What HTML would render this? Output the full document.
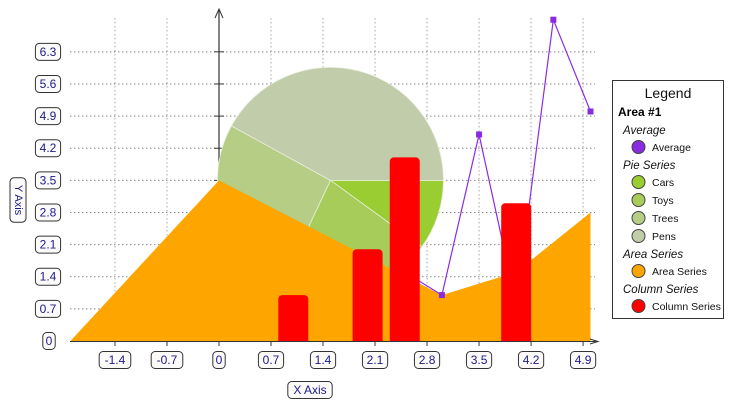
<!DOCTYPE html>
<html><head><meta charset="utf-8"><style>
body{margin:0;background:#fff;width:732px;height:406px;overflow:hidden;font-family:"Liberation Sans",sans-serif}
svg{position:absolute;left:0;top:0}
text{font-family:"Liberation Sans",sans-serif}
</style></head><body>
<svg id="chart" width="732" height="406" xmlns="http://www.w3.org/2000/svg">
<g id="grid"></g>
<g id="vaxis"></g>
<g id="pie"></g>
<g id="area"></g>
<g id="line"></g>
<g id="cols"></g>
<g id="axes"></g>
<g id="legend">
<rect x="612.5" y="80.5" width="111" height="238" fill="#fff" stroke="#333"/>
<text x="668" y="98" font-size="14" text-anchor="middle" fill="#111">Legend</text>
<text x="618" y="116" font-size="12" font-weight="bold" fill="#000">Area #1</text>
</g>
</svg>
<script>
const xTicks=[-1.4,-0.7,0,0.7,1.4,2.1,2.8,3.5,4.2,4.9];
const yTicks=[0,0.7,1.4,2.1,2.8,3.5,4.2,4.9,5.6,6.3];
const areaX=[-2,0,3,4,5];
const areaY=[0,3.5,1,1.5,2.8];
const colX=[1,2,2.5,4];
const colY=[1,2,4,3];
const avgX=[2.5,3,3.5,4,4.5,5];
const avgY=[1.5,1,4.5,0.8,7,5];
const pieNames=["Cars","Toys","Trees","Pens"];
const pieValues=[10,22,26,42];
const pieColors=["#9acd32","#a8cc5a","#b5cd85","#c1ccaa"];
const NS="http://www.w3.org/2000/svg";
const X=v=>219+v*74.3, Y=v=>341-v*45.9;
function mk(p,t,a){const e=document.createElementNS(NS,t);for(const k in a)e.setAttribute(k,a[k]);p.appendChild(e);return e;}
const grid=document.getElementById('grid');
xTicks.forEach(v=>{const l=mk(grid,'line',{x1:X(v),x2:X(v),y1:18,y2:341,stroke:'#aaa','stroke-dasharray':'1.5,2.5'});

});
yTicks.slice(1).forEach(v=>{const l=mk(grid,'line',{x1:70,x2:595,y1:Y(v),y2:Y(v),stroke:'#888','stroke-dasharray':'1.5,2.5'});

});
const va=document.getElementById('vaxis');
mk(va,'line',{x1:219,x2:219,y1:10,y2:341,stroke:'#333','stroke-width':1.2});
mk(va,'path',{d:'M215,18L219,9L223,18',fill:'none',stroke:'#333'});
yTicks.forEach(v=>{if(v>0)mk(va,'line',{x1:214,x2:224,y1:Y(v),y2:Y(v),stroke:'#333'});});
// pie
const pie=document.getElementById('pie');
const cx=X(1.5),cy=Y(3.5),r=113;const tot=pieValues.reduce((a,b)=>a+b,0);let a0=0;
pieValues.forEach((v,i)=>{const a1=a0+v/tot*2*Math.PI;
const d=`M${cx},${cy}L${cx+r*Math.cos(a0)},${cy+r*Math.sin(a0)}A${r},${r} 0 ${a1-a0>Math.PI?1:0} 1 ${cx+r*Math.cos(a1)},${cy+r*Math.sin(a1)}Z`;
const p=mk(pie,'path',{d,fill:pieColors[i],stroke:'#e8eedd','stroke-width':0.8});

a0=a1;});
// area
const area=document.getElementById('area');
let d='M'+X(areaX[0])+','+Y(0);areaX.forEach((x,i)=>d+='L'+X(x)+','+Y(areaY[i]));d+='L'+X(areaX[areaX.length-1])+','+Y(0)+'Z';
const ap=mk(area,'path',{d,fill:'#ffa500'});


// line
const line=document.getElementById('line');
const pl=mk(line,'polyline',{points:avgX.map((x,i)=>X(x)+','+Y(avgY[i])).join(' '),fill:'none',stroke:'#8a2be2','stroke-width':1.2});


avgX.forEach((x,i)=>{const m=mk(line,'rect',{x:X(x)-3,y:Y(avgY[i])-3,width:6,height:6,fill:'#8a2be2'});

});
// cols
const cols=document.getElementById('cols');
colX.forEach((x,i)=>{const b=mk(cols,'rect',{x:X(x)-15,y:Y(colY[i]),width:30,height:Y(0)-Y(colY[i])+6,rx:4,fill:'#ff0000'});

});
mk(cols,'rect',{x:0,y:341.5,width:600,height:10,fill:'#fff'});
// axes
const ax=document.getElementById('axes');
mk(ax,'line',{x1:70,x2:597,y1:341.5,y2:341.5,stroke:'#333'});
mk(ax,'path',{d:'M590,339L598,341.5L590,344',fill:'none',stroke:'#333'});
function box(txt,cx,cy,name,vert){const g=mk(ax,'g',{});


const w=txt.length*6.4+6;
if(vert){mk(g,'rect',{x:cx-8,y:cy-w/2,width:16,height:w,rx:4,fill:'#fdfafa',stroke:'#333'});
const t=mk(g,'text',{x:cx,y:cy,'font-size':11,fill:'#1a1a8a','text-anchor':'middle','dominant-baseline':'central',transform:`rotate(90 ${cx} ${cy})`});t.textContent=txt;}
else{mk(g,'rect',{x:cx-w/2,y:cy-8.5,width:w,height:17,rx:4,fill:'#fdfafa',stroke:'#333'});
const t=mk(g,'text',{x:cx,y:cy+4,'font-size':12,fill:'#1a1a8a','text-anchor':'middle'});t.textContent=txt;}}
xTicks.forEach(v=>{mk(ax,'line',{x1:X(v),x2:X(v),y1:341,y2:346,stroke:'#333'});box(String(v),X(v),360,'x-tick-label');});
yTicks.forEach(v=>{box(String(v),v===0?49:48,Y(v),'y-tick-label');});
box('X Axis',310,390,'x-axis-title');box('Y Axis',18,200,'y-axis-title',true);
// legend
const lg=document.getElementById('legend');
const items=[['h','Average'],['i','Average','#8a2be2'],['h','Pie Series'],['i','Cars',pieColors[0]],['i','Toys',pieColors[1]],['i','Trees',pieColors[2]],['i','Pens',pieColors[3]],['h','Area Series'],['i','Area Series','#ffa500'],['h','Column Series'],['i','Column Series','#ff0000']];
let yy=134;
items.forEach(it=>{if(it[0]==='h'){const t=mk(lg,'text',{x:623,y:yy,'font-size':11.5,'font-style':'italic',fill:'#111'});t.textContent=it[1];yy+=17;}
else{const g=mk(lg,'g',{});


mk(g,'circle',{cx:638.5,cy:yy-4,r:6.5,fill:it[2],stroke:'#444'});const t=mk(g,'text',{x:652,y:yy,'font-size':10.5,fill:'#111'});t.textContent=it[1];yy+=18;}});
</script>
</body></html>
